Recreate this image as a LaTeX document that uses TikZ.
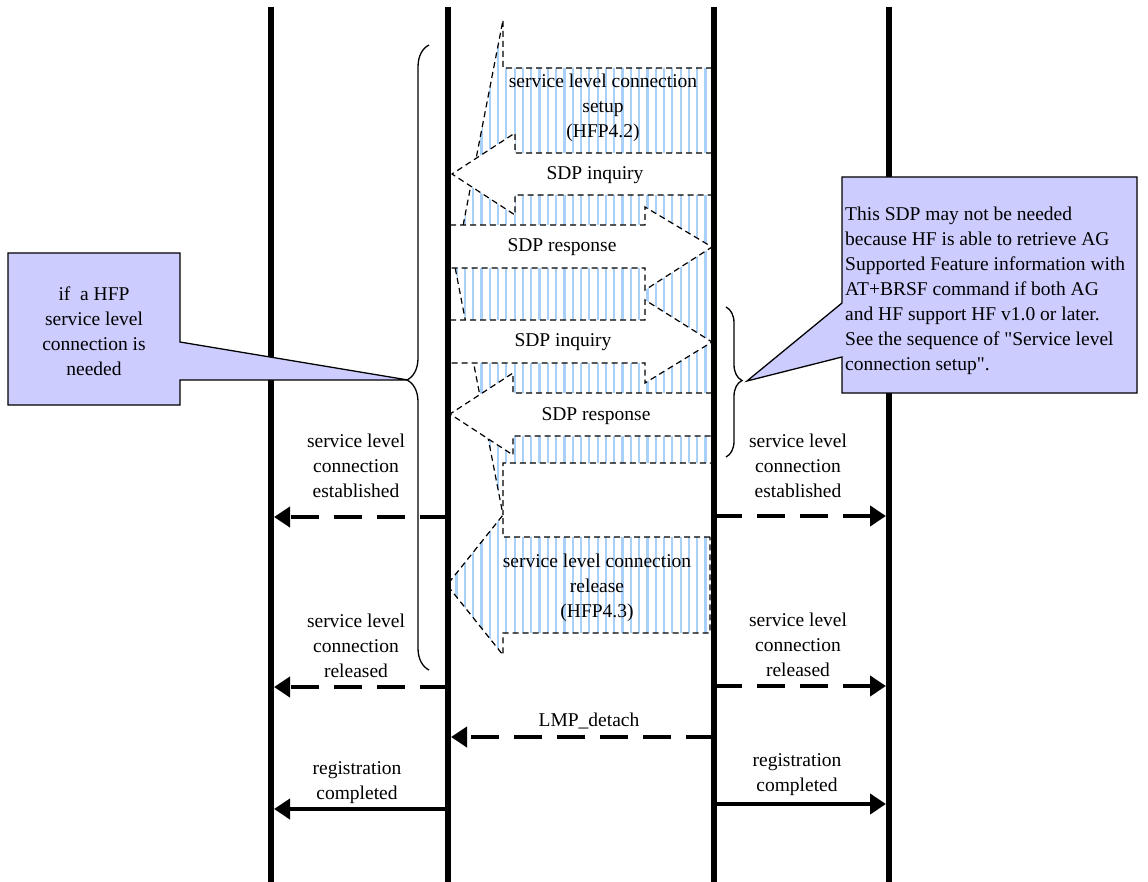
\documentclass[tikz,border=0pt]{standalone}
\usepackage{fontspec}
\setmainfont{Liberation Serif}
\usetikzlibrary{arrows.meta,decorations.pathreplacing,patterns.meta}
\definecolor{ink}{HTML}{000000}
\definecolor{hatchc}{HTML}{A9D0F7}
\definecolor{notec}{HTML}{CCCCFF}

\begin{document}
\begin{tikzpicture}[x=1pt,y=-1pt,every node/.style={font=\fontsize{19.5}{25}\selectfont,align=center,inner sep=0pt}]
\tikzstyle{lifeline}=[ink,line width=6pt]
\tikzstyle{outline}=[draw=ink,line width=1.2pt,dash pattern=on 6pt off 4pt]
\tikzstyle{hatched}=[pattern={Lines[angle=90,distance=8.3pt,line width=2.2pt]},pattern color=hatchc,postaction={outline}]
\tikzstyle{blank}=[outline,fill=white]
\tikzstyle{msg}=[ink,line width=4pt,-{Triangle[length=16pt,width=20pt]},shorten >=3pt]
\tikzstyle{msgdash}=[msg,dash pattern=on 28pt off 15pt]
\tikzstyle{note}=[draw=ink,line width=1.3pt,fill=notec]
\tikzstyle{curly}=[ink,line width=1.3pt,decorate]
\useasboundingbox (0,0) rectangle (1148,882);

% lifelines
\coordinate (hfapp) at (271,7);
\coordinate (hf) at (448,7);
\coordinate (ag) at (714,7);
\coordinate (agapp) at (889,7);
\coordinate (bottom) at (0,882);

% big hatched arrows
\path[hatched] (712,68) -- (503,68) -- (503,20) -- (455,267) -- (503,515) -- (503,463) -- (712,463) -- cycle;
\node (setup) at (603,108) {service level connection\\setup\\(HFP4.2)};
\path[hatched] (710,537) -- (503,537) -- (503,515) -- (447,585) -- (503,655) -- (503,633) -- (710,633) -- cycle;
\node (release) at (597,588) {service level connection\\release\\(HFP4.3)};

% SDP exchange
\path[blank] (712,153) -- (515,153) -- (515,133) -- (452,174) -- (515,215) -- (515,195) -- (712,195) -- cycle;
\node (inq1) at (595,175) {SDP inquiry};
\path[blank] (450,225) -- (645,225) -- (645,207) -- (712,247) -- (645,290) -- (645,268) -- (450,268) -- cycle;
\node (resp1) at (562,247) {SDP response};
\path[blank] (450,320) -- (645,320) -- (645,300) -- (712,342) -- (645,383) -- (645,363) -- (450,363) -- cycle;
\node (inq2) at (563,342) {SDP inquiry};
\path[blank] (712,393) -- (513,393) -- (513,373) -- (450,414) -- (513,455) -- (513,436) -- (712,436) -- cycle;
\node (resp2) at (596,416) {SDP response};

\draw[lifeline] (hfapp) -- (hfapp|-bottom);
\draw[lifeline] (hf) -- (hf|-bottom);
\draw[lifeline] (ag) -- (ag|-bottom);
\draw[lifeline] (agapp) -- (agapp|-bottom);

% messages
\coordinate (estl) at (0,517);
\coordinate (estr) at (0,516);
\coordinate (rell) at (0,687);
\coordinate (relr) at (0,686);
\coordinate (lmp) at (0,737);
\coordinate (regl) at (0,809);
\coordinate (regr) at (0,804);
\draw[msgdash] (hf|-estl) -- (hfapp|-estl);
\draw[msgdash] (ag|-estr) -- (agapp|-estr);
\draw[msgdash] (hf|-rell) -- (hfapp|-rell);
\draw[msgdash] (ag|-relr) -- (agapp|-relr);
\draw[msgdash] (ag|-lmp) -- (hf|-lmp);
\draw[msg] (hf|-regl) -- (hfapp|-regl);
\draw[msg] (ag|-regr) -- (agapp|-regr);
\node (estltxt) at (356,466) {service level\\connection\\established};
\node (estrtxt) at (798,466) {service level\\connection\\established};
\node (relltxt) at (356,646) {service level\\connection\\released};
\node (relrtxt) at (798,645) {service level\\connection\\released};
\node (lmptxt) at (589,721) {LMP\_detach};
\node (regltxt) at (357,783) {registration\\completed};
\node (regrtxt) at (797,775) {registration\\completed};

% braces and notes
\draw[curly,decoration={brace,amplitude=22pt,aspect=0.464}] (429,670) -- (429,45);
\draw[curly,decoration={brace,amplitude=16pt,aspect=0.49}] (726,307) -- (726,457);
\draw[note] (8,253) -- (180,253) -- (180,342) -- (408,380) -- (180,380) -- (180,405) -- (8,405) -- cycle;
\node (hfnote) at (94,331) {if\ \ a HFP\\service level\\connection is\\needed};
\draw[note] (842,177) -- (1137,177) -- (1137,393) -- (842,393) -- (842,357) -- (747,381) -- (842,303) -- cycle;
\node[anchor=west,align=left] (sdpnote) at (845,291) {This SDP may not be needed\\because HF is able to retrieve AG\\Supported Feature information with\\AT+BRSF command if both AG\\and HF support HF v1.0 or later.\\See the sequence of \textquotedbl Service level\\connection setup\textquotedbl.};
\end{tikzpicture}
\end{document}
